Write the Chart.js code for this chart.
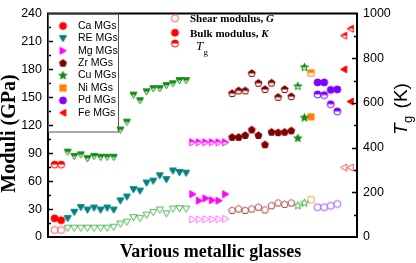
<!DOCTYPE html>
<html>
<head>
<meta charset="utf-8">
<script src="https://cdn.jsdelivr.net/npm/chart.js@4"></script>
<style>html,body{margin:0;padding:0;background:#fff}</style>
</head>
<body>
<canvas id="chart" width="416" height="263"></canvas>
<script>
'use strict';

// Groups in the order they appear along the x axis
const groups = ['Ca', 'RE', 'Mg', 'Zr', 'Cu', 'Ni', 'Pd', 'Fe'];

// Shear modulus G (GPa)
const caG = [7.5, 7.5];
const reG = [9.5, 9.5, 9.5, 9.5, 9.5, 9.5, 9.5, 10.5, 14, 16, 21, 20, 23.5, 26.5, 29, 25, 30, 30.5, 30];
const mgG = [19, 19, 19, 19, 19, 19.5];
const zrG = [28.5, 30, 28.5, 30, 32, 29, 33.5, 36.5, 35, 36.5];
const cuG = [33.5, 36.5];
const niG = [40];
const pdG = [32, 32, 33.5, 35.5];
const feG = [74.5, 74.5];

// Bulk modulus K (GPa)
const caK = [20, 18];
const reK = [20, 26.6, 31.8, 29, 31.2, 29, 31.2, 29, 38.9, 43, 51, 49.4, 58, 60, 65.9, 61.7, 71, 69.3, 68.6];
const mgK = [46, 39, 41.5, 39.5, 39, 46];
const zrK = [107, 107, 109, 115, 109, 99, 112.5, 112, 112.5, 114];
const cuK = [106, 128];
const niK = [129];
const pdK = [166, 166, 158, 158.5];
const feK = [180, 145.5];

// Glass transition temperature Tg (K)
const caTg = [324, 324];
const reTg = [380, 361, 368, 351, 361, 357, 357, 357, 479, 514, 635, 610, 650, 664, 664, 678, 686, 700, 700];
const mgTg = [424, 424, 424, 424, 424, 424];
const zrTg = [642, 654, 654, 732, 688, 660, 689, 625, 660, 628];
const cuTg = [674, 759];
const niTg = [734];
const pdTg = [638, 635, 594, 562];
const feTg = [901, 932];

const leftTicks = [0, 30, 60, 90, 120, 150, 180, 210, 240];
const rightTicks = [0, 200, 400, 600, 800, 1000];

const seriesG = [caG, reG, mgG, zrG, cuG, niG, pdG, feG];
const seriesK = [caK, reK, mgK, zrK, cuK, niK, pdK, feK];
const seriesTg = [caTg, reTg, mgTg, zrTg, cuTg, niTg, pdTg, feTg];

// marker look per group: shape, colour of K, colour of open G, colour of Tg
const looks = {
    Ca: { shape: 'circle', k: '#ff0000', g: '#ff5050', tg: '#ff0000' },
    RE: { shape: 'triDown', k: '#008080', g: '#4caf50', tg: '#108a10' },
    Mg: { shape: 'triRight', k: '#ff00ff', g: '#ff70ff', tg: '#ff00ff' },
    Zr: { shape: 'pentagon', k: '#800000', g: '#a84040', tg: '#800000' },
    Cu: { shape: 'star', k: '#108a10', g: '#40a840', tg: '#108a10' },
    Ni: { shape: 'square', k: '#ff8000', g: '#ffa040', tg: '#ff8000' },
    Pd: { shape: 'circle', k: '#8000ff', g: '#a050ff', tg: '#8000ff' },
    Fe: { shape: 'triLeft', k: '#ff0000', g: '#ff5050', tg: '#ff0000' }
};

function shapePath(g, shape, m, r) {
    let pts = null;
    if (shape === 'circle') {
        g.arc(m, m, r, 0, Math.PI * 2);
        return;
    }
    if (shape === 'square') {
        g.rect(m - r * 0.9, m - r * 0.9, r * 1.8, r * 1.8);
        return;
    }
    if (shape === 'triDown') pts = [[-1, -0.8], [1, -0.8], [0, 0.95]];
    if (shape === 'triRight') pts = [[-0.8, -1], [-0.8, 1], [0.95, 0]];
    if (shape === 'triLeft') pts = [[0.8, -1], [0.8, 1], [-0.95, 0]];
    if (shape === 'pentagon') {
        pts = [];
        for (let k = 0; k < 5; k++) {
            const a = -Math.PI / 2 + k * 2 * Math.PI / 5;
            pts.push([Math.cos(a) * 1.05, Math.sin(a) * 1.05]);
        }
    }
    if (shape === 'star') {
        pts = [];
        for (let k = 0; k < 10; k++) {
            const a = -Math.PI / 2 + k * Math.PI / 5;
            const rr = k % 2 ? 0.5 : 1.2;
            pts.push([Math.cos(a) * rr, Math.sin(a) * rr]);
        }
    }
    pts.forEach(function(p, i) {
        if (i === 0) g.moveTo(m + p[0] * r, m + p[1] * r);
        else g.lineTo(m + p[0] * r, m + p[1] * r);
    });
    g.closePath();
}

function makeMarker(shape, color, mode, size) {
    size = size || 7;
    const c = document.createElement('canvas');
    c.width = c.height = size + 4;
    const g = c.getContext('2d');
    const m = c.width / 2, r = size / 2;
    g.beginPath();
    shapePath(g, shape, m, r);
    g.lineWidth = 1;
    g.strokeStyle = color;
    if (mode === 'filled') {
        g.fillStyle = color;
        g.fill();
        g.stroke();
    } else if (mode === 'open') {
        g.fillStyle = '#fff';
        g.fill();
        g.stroke();
    } else {
        g.fillStyle = '#fff';
        g.fill();
        g.save();
        g.clip();
        g.fillStyle = color;
        g.fillRect(0, 0, c.width, m);
        g.restore();
        g.stroke();
    }
    return c;
}

// Build datasets, x = running position of each glass along the axis
const datasets = [];
let pos = 1;
groups.forEach(function(name, gi) {
    const look = looks[name];
    const toPts = arr => arr.map((v, i) => ({ x: pos + i, y: v }));
    datasets.push({ label: name + ' G', data: toPts(seriesG[gi]), yAxisID: 'y',
        pointStyle: makeMarker(look.shape, look.g, 'open'), pointRadius: 4 });
    datasets.push({ label: name + ' K', data: toPts(seriesK[gi]), yAxisID: 'y',
        pointStyle: makeMarker(look.shape, look.k, 'filled'), pointRadius: 4 });
    datasets.push({ label: name + ' Tg', data: toPts(seriesTg[gi]), yAxisID: 'y2',
        pointStyle: makeMarker(look.shape, look.tg, 'half'), pointRadius: 4 });
    pos += seriesG[gi].length;
});

const sans = "'Liberation Sans', Arial, sans-serif";
const serif = "'Liberation Serif', 'Times New Roman', serif";

const decor = {
    id: 'decor',
    afterDraw(chart) {
        const ctx = chart.ctx;
        const a = chart.chartArea;
        const ys = chart.scales.y, y2 = chart.scales.y2;
        ctx.save();

        // inward ticks
        ctx.strokeStyle = '#000';
        ctx.lineWidth = 1.5;
        ctx.beginPath();
        for (let v = 15; v < 240; v += 15) {
            const py = Math.round(ys.getPixelForValue(v)) + 0.5;
            ctx.moveTo(a.left, py);
            ctx.lineTo(a.left + (v % 30 === 0 ? 5 : 3), py);
        }
        for (let v = 100; v < 1000; v += 100) {
            const py = Math.round(y2.getPixelForValue(v)) + 0.5;
            ctx.moveTo(a.right, py);
            ctx.lineTo(a.right - (v % 200 === 0 ? 5 : 3), py);
        }
        ctx.stroke();

        // frame
        ctx.lineWidth = 2;
        ctx.strokeRect(a.left, a.top, a.right - a.left, a.bottom - a.top);

        // group legend box
        ctx.lineWidth = 1;
        ctx.strokeStyle = '#555';
        ctx.strokeRect(a.left + 0.5, a.top + 0.5, 70, 118);
        ctx.fillStyle = '#000';
        ctx.font = '10.5px ' + sans;
        ctx.textBaseline = 'middle';
        ctx.textAlign = 'left';
        groups.forEach(function(name, i) {
            const yy = 26 + i * 12.4;
            const mk = makeMarker(looks[name].shape, looks[name].k, 'filled');
            ctx.drawImage(mk, 63 - mk.width / 2, yy - mk.height / 2);
            ctx.fillText(name + ' MGs', 78, yy);
        });

        // property legend
        const red = '#ff0000';
        const m1 = makeMarker('circle', '#ff5050', 'open');
        const m2 = makeMarker('circle', red, 'filled');
        const m3 = makeMarker('circle', red, 'half');
        ctx.drawImage(m1, 175 - m1.width / 2, 18.3 - m1.height / 2);
        ctx.drawImage(m2, 175 - m2.width / 2, 32.7 - m2.height / 2);
        ctx.drawImage(m3, 175 - m3.width / 2, 43.5 - m3.height / 2);
        ctx.textBaseline = 'alphabetic';
        ctx.font = 'bold 11px ' + serif;
        let t = 'Shear modulus, ';
        const wg = ctx.measureText(t).width;
        ctx.fillText(t, 190, 22);
        ctx.font = 'italic bold 11px ' + serif;
        ctx.fillText('G', 190 + wg, 22);
        t = 'Bulk modulus, ';
        ctx.font = 'bold 11px ' + serif;
        const wk = ctx.measureText(t).width;
        ctx.fillText(t, 190, 36.5);
        ctx.font = 'italic bold 11px ' + serif;
        ctx.fillText('K', 190 + wk, 36.5);
        ctx.font = 'italic 13px ' + serif;
        ctx.fillText('T', 196, 49.5);
        ctx.font = '9px ' + serif;
        ctx.fillText('g', 203.5, 55);

        // x title
        ctx.font = 'bold 18px ' + serif;
        ctx.fillText('Various metallic glasses', 120, 256.5);

        // left title
        ctx.save();
        ctx.translate(15, 133.5);
        ctx.rotate(-Math.PI / 2);
        ctx.textAlign = 'center';
        ctx.font = 'bold 20px ' + serif;
        ctx.fillText('Moduli (GPa)', 0, 0);
        ctx.restore();

        // right title
        ctx.save();
        ctx.translate(407, 135);
        ctx.rotate(-Math.PI / 2);
        ctx.textAlign = 'left';
        ctx.font = 'italic 19px ' + sans;
        ctx.fillText('T', 0, 0);
        let w = ctx.measureText('T').width;
        ctx.font = '13px ' + sans;
        ctx.fillText('g', w + 0.5, 5);
        w += ctx.measureText('g').width + 0.5;
        ctx.font = '19px ' + sans;
        ctx.fillText(' (K)', w + 2, 0);
        ctx.restore();

        ctx.restore();
    }
};

const tickFont = { family: sans, size: 12.5 };

new Chart(document.getElementById('chart'), {
    type: 'scatter',
    data: { datasets: datasets },
    options: {
        responsive: false,
        animation: false,
        events: [],
        layout: { autoPadding: false, padding: { top: 8, bottom: 26, left: 0, right: 0 } },
        plugins: { legend: { display: false }, tooltip: { enabled: false } },
        scales: {
            x: { type: 'linear', min: 0, max: 47, display: false },
            y: {
                position: 'left', min: 0, max: 240,
                afterBuildTicks: s => { s.ticks = leftTicks.map(v => ({ value: v })); },
                ticks: { padding: 6, color: '#000', font: tickFont, callback: v => String(v) },
                grid: { display: false, drawTicks: false },
                border: { display: false },
                afterFit: s => { s.width = 48; }
            },
            y2: {
                position: 'right', min: 0, max: 1000,
                afterBuildTicks: s => { s.ticks = rightTicks.map(v => ({ value: v })); },
                ticks: { padding: 6, color: '#000', font: tickFont, callback: v => String(v) },
                grid: { display: false, drawTicks: false },
                border: { display: false },
                afterFit: s => { s.width = 59; }
            }
        }
    },
    plugins: [decor]
});
</script>
</body>
</html>
